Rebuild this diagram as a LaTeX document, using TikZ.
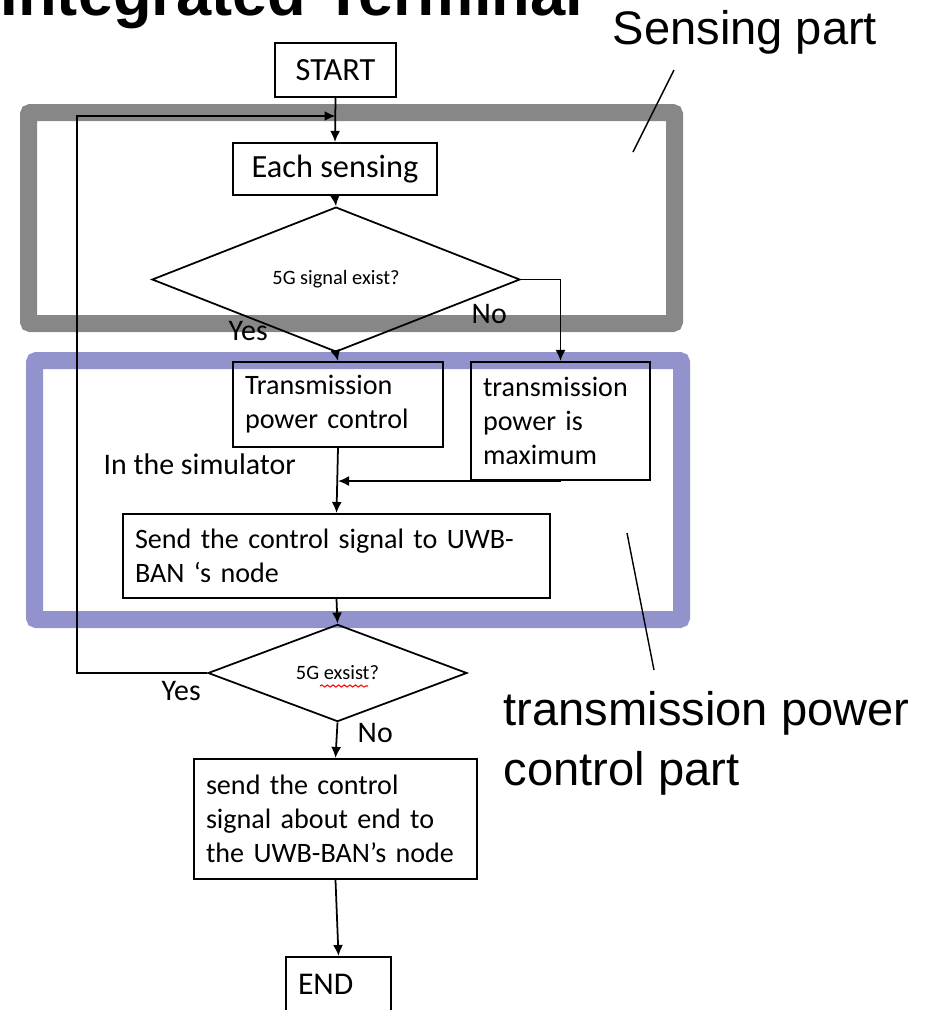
\documentclass[tikz,border=0pt]{standalone}
\usepackage{fontspec}
\setmainfont{Carlito}
\newfontfamily\arialfont{Liberation Sans}
\usetikzlibrary{shapes.geometric,arrows.meta,decorations.pathmorphing}
\definecolor{sensegray}{RGB}{135,135,135}
\definecolor{ctrlblue}{RGB}{146,146,204}

\begin{document}
\begin{tikzpicture}[
    box/.style={draw, line width=0.6pt, inner xsep=1.2mm, inner ysep=0pt, align=left, font=\fontsize{8}{9.7}\selectfont},
    cbox/.style={draw, line width=0.6pt, inner sep=0pt, align=center, font=\fontsize{9.2}{11}\selectfont},
    ask/.style={draw, diamond, line width=0.5pt, inner sep=0pt, font=\fontsize{5.8}{7}\selectfont},
    flow/.style={line width=0.5pt, -{Latex[length=1.1mm,width=1mm]}},
    lbl/.style={inner sep=0pt, anchor=base west, font=\fontsize{8.5}{10}\selectfont},
    frame/.style={line width=1.7mm, rounded corners=0.6pt},
    note/.style={inner sep=0pt, anchor=base west, align=left, font=\arialfont\fontsize{13.4}{17}\selectfont}]

    \useasboundingbox (0, 0) rectangle (9.35, -10.10);
    \clip (0, 0) rectangle (9.35, -10.10);

    \node[anchor=base west, inner sep=0pt, font=\arialfont\bfseries\fontsize{18}{20}\selectfont] (title) at (0, -0.15) {Integrated Terminal};

    % the two parts
    \draw[frame, sensegray] (0.285, -1.125) rectangle (6.745, -3.235);
    \draw[frame, ctrlblue] (0.345, -3.605) rectangle (6.815, -6.195);

    \node[cbox, minimum width=1.21cm, minimum height=0.54cm] (start) at (3.355, -0.70) {START};
    \node[cbox, minimum width=2.04cm, minimum height=0.52cm] (sense) at (3.35, -1.69) {Each sensing};
    \node[ask, minimum width=3.68cm, minimum height=0.85cm] (q1) at (3.36, -2.795) {5G signal exist?};
    \node[box, text width=1.86cm, minimum height=0.85cm] (tpc) at (3.38, -4.045) {Transmission\\power control};
    \node[box, text width=1.55cm, minimum height=1.18cm] (pmax) at (5.605, -4.21) {transmission\\power is\\maximum};
    \node[box, text width=4.03cm, minimum height=0.84cm] (send) at (3.365, -5.56) {Send the control signal to UWB-\\BAN ‘s node};
    \node[ask, minimum width=2.59cm, minimum height=0.88cm] (q2) at (3.375, -6.73) {5G exsist?};
    \node[box, text width=2.59cm, minimum height=1.20cm] (notify) at (3.355, -8.19) {send the control\\signal about end to\\the UWB-BAN’s node};
    \node[box, text width=0.81cm, minimum height=0.54cm, font=\fontsize{9}{11}\selectfont] (stop) at (3.385, -9.84) {END};

    % spell-check mark
    \draw[red, line width=0.3pt, decorate, decoration={snake, amplitude=0.3pt, segment length=1.6pt}] (3.20, -6.86) -- (3.68, -6.86);

    \coordinate (merge) at (tpc.south |- pmax.south);
    \coordinate (back) at (0.77, -1.16);
    \coordinate (loopin) at (3.355, -1.16);

    \draw[flow] (start.south) -- (sense.north);
    \draw[flow] (sense.south) -- (q1.north);
    \draw[flow] (q1.south) -- (tpc.north);
    \draw[flow] (q1.east) -| (pmax.north);
    \draw[flow] (tpc.south) -- (send.north);
    \draw[flow] (pmax.south) -- (merge);
    \draw[flow] (send.south) -- (q2.north);
    \draw[flow] (q2.south) -- (notify.north);
    \draw[flow] (notify.south) -- (stop.north);
    \draw[flow] (q2.west) -| (back) -- (loopin);

    \node[lbl] (yes1) at (2.28, -3.40) {Yes};
    \node[lbl] (no1) at (4.71, -3.23) {No};
    \node[lbl] (sim) at (1.03, -4.74) {In the simulator};
    \node[lbl] (yes2) at (1.61, -7.00) {Yes};
    \node[lbl] (no2) at (3.57, -7.42) {No};

    % part labels
    \node[note] (sensepart) at (6.12, -0.44) {Sensing part};
    \node[note] (powerpart) at (5.03, -7.85) {transmission power\\control part};
    \coordinate (sensefoot) at (6.74, -0.70);
    \coordinate (sensetip) at (6.33, -1.52);
    \coordinate (powertip) at (6.27, -5.33);
    \coordinate (powerfoot) at (6.54, -6.70);
    \draw[line width=0.4pt] (sensefoot) -- (sensetip);
    \draw[line width=0.4pt] (powertip) -- (powerfoot);
\end{tikzpicture}
\end{document}
